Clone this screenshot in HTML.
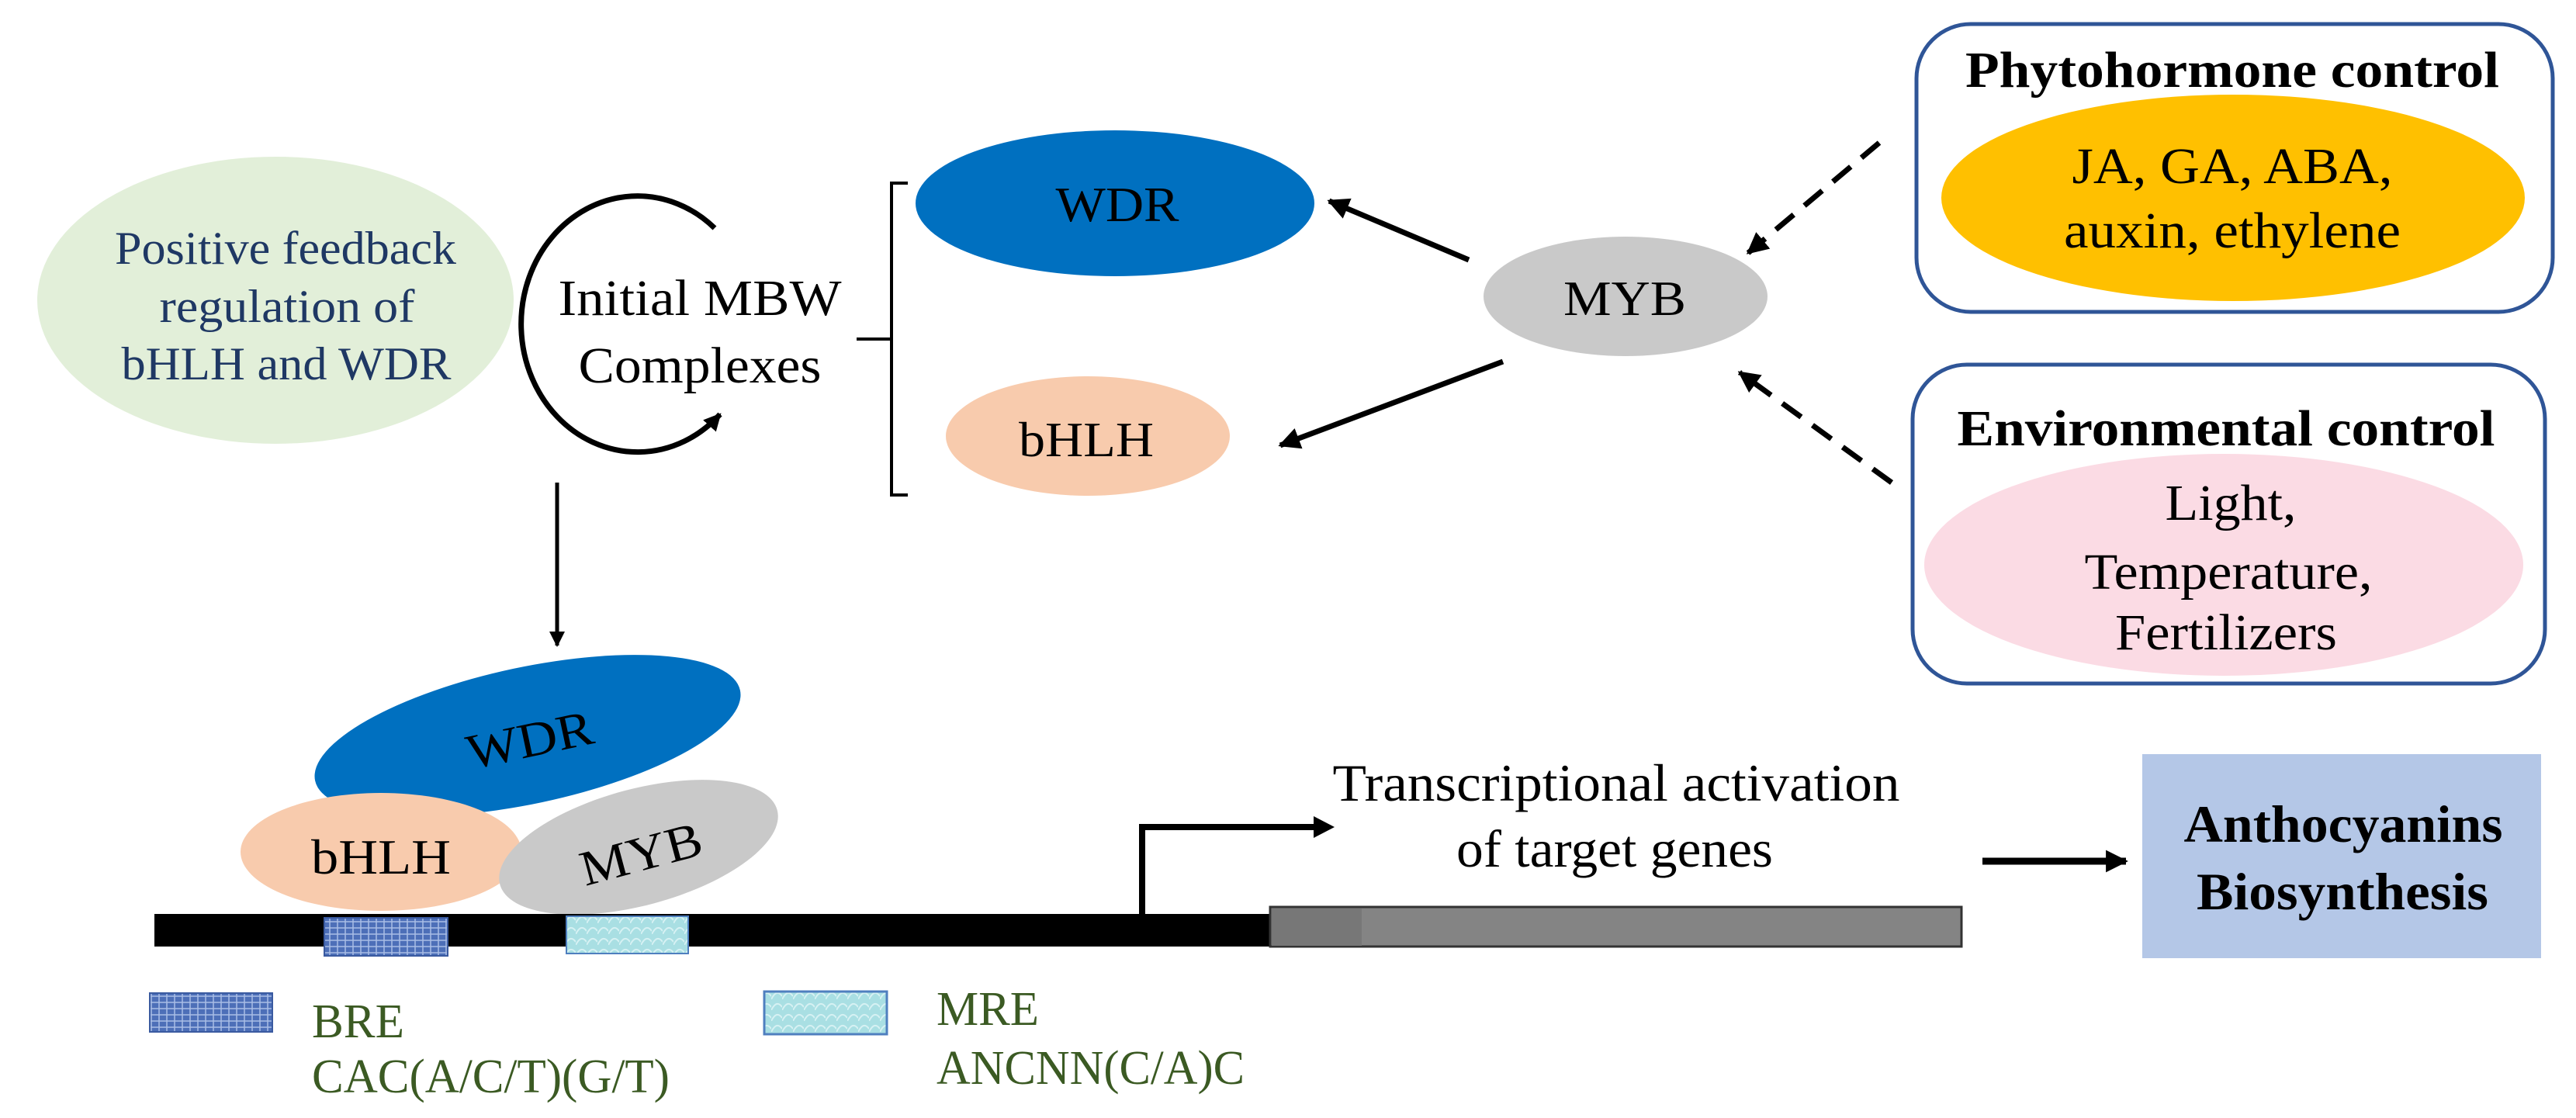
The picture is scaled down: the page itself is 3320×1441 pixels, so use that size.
<!DOCTYPE html>
<html><head><meta charset="utf-8"><style>html,body{margin:0;padding:0;background:#fff}svg{display:block}</style></head>
<body>
<svg xmlns="http://www.w3.org/2000/svg" width="3320" height="1441" viewBox="0 0 3320 1441" font-family="'Liberation Serif', serif">
<defs>
<marker id="ah" viewBox="0 0 10 10" refX="9" refY="5" markerWidth="4" markerHeight="4" orient="auto" markerUnits="strokeWidth"><path d="M0,0 L10,5 L0,10 Z" fill="#000"/></marker>
<marker id="ah2" viewBox="0 0 10 10" refX="9" refY="5" markerWidth="3.2" markerHeight="3.2" orient="auto" markerUnits="strokeWidth"><path d="M0,0 L10,5 L0,10 Z" fill="#000"/></marker>
<pattern id="bre" width="10" height="8" patternUnits="userSpaceOnUse"><rect width="10" height="8" fill="#4d6fb8"/><path d="M0,4 L10,4 M5,0 L5,8" stroke="#a9bde6" stroke-width="1.5"/></pattern>
<pattern id="mre" width="14" height="14" patternUnits="userSpaceOnUse"><rect width="14" height="14" fill="#a9dfe3"/><path d="M0,14 Q7,0 14,10" stroke="#d6f1f3" stroke-width="2" fill="none"/></pattern>
</defs>

<!-- green ellipse -->
<ellipse cx="355" cy="387" rx="307" ry="185" fill="#e2efd9"/>
<g fill="#1f3864" font-size="60" text-anchor="middle">
<text x="368" y="340" textLength="440" lengthAdjust="spacingAndGlyphs">Positive feedback</text>
<text x="370" y="415" textLength="329" lengthAdjust="spacingAndGlyphs">regulation of</text>
<text x="369" y="489" textLength="425" lengthAdjust="spacingAndGlyphs">bHLH and WDR</text>
</g>

<!-- circular arrow -->
<path d="M921,294 A150 165 0 1 0 928,534" fill="none" stroke="#000" stroke-width="7" marker-end="url(#ah2)"/>
<g font-size="66" text-anchor="middle">
<text x="902" y="406" textLength="365" lengthAdjust="spacingAndGlyphs">Initial MBW</text>
<text x="902" y="493" textLength="313" lengthAdjust="spacingAndGlyphs">Complexes</text>
</g>

<!-- bracket -->
<path d="M1170,236 L1149,236 L1149,638 L1170,638 M1104,437 L1149,437" fill="none" stroke="#000" stroke-width="4"/>

<!-- top ellipses -->
<ellipse cx="1437" cy="262" rx="257" ry="94" fill="#0070c0"/>
<text x="1440" y="285" font-size="64" text-anchor="middle" textLength="159" lengthAdjust="spacingAndGlyphs">WDR</text>
<ellipse cx="1402" cy="562" rx="183" ry="77" fill="#f8cbad"/>
<text x="1400" y="588" font-size="64" text-anchor="middle" textLength="174" lengthAdjust="spacingAndGlyphs">bHLH</text>
<ellipse cx="2095" cy="382" rx="183" ry="77" fill="#c9c9c9"/>
<text x="2094" y="406" font-size="64" text-anchor="middle" textLength="158" lengthAdjust="spacingAndGlyphs">MYB</text>

<!-- arrows from MYB -->
<line x1="1893" y1="335" x2="1713" y2="259" stroke="#000" stroke-width="7" marker-end="url(#ah)"/>
<line x1="1937" y1="466" x2="1650" y2="574" stroke="#000" stroke-width="7" marker-end="url(#ah)"/>

<!-- dashed arrows -->
<line x1="2422" y1="184" x2="2253" y2="326" stroke="#000" stroke-width="7" stroke-dasharray="30,18" marker-end="url(#ah)"/>
<line x1="2438" y1="622" x2="2242" y2="480" stroke="#000" stroke-width="7" stroke-dasharray="30,18" marker-end="url(#ah)"/>

<!-- phytohormone box -->
<rect x="2470" y="31" width="820" height="371" rx="70" fill="#fff" stroke="#2f5597" stroke-width="5"/>
<text x="2877" y="112" font-size="66" font-weight="bold" text-anchor="middle" textLength="688" lengthAdjust="spacingAndGlyphs">Phytohormone control</text>
<ellipse cx="2878" cy="255" rx="376" ry="133" fill="#ffc000"/>
<g font-size="66" text-anchor="middle">
<text x="2877" y="236" textLength="413" lengthAdjust="spacingAndGlyphs">JA, GA, ABA,</text>
<text x="2877" y="319" textLength="434" lengthAdjust="spacingAndGlyphs">auxin, ethylene</text>
</g>

<!-- environmental box -->
<rect x="2465" y="470" width="815" height="411" rx="70" fill="#fff" stroke="#2f5597" stroke-width="5"/>
<text x="2869" y="574" font-size="66" font-weight="bold" text-anchor="middle" textLength="693" lengthAdjust="spacingAndGlyphs">Environmental control</text>
<ellipse cx="2866" cy="728" rx="386" ry="143" fill="#fbdbe4"/>
<g font-size="66" text-anchor="middle">
<text x="2875" y="670" textLength="169" lengthAdjust="spacingAndGlyphs">Light,</text>
<text x="2872" y="759" textLength="371" lengthAdjust="spacingAndGlyphs">Temperature,</text>
<text x="2869" y="837" textLength="286" lengthAdjust="spacingAndGlyphs">Fertilizers</text>
</g>

<!-- vertical arrow -->
<line x1="718" y1="622" x2="718" y2="832" stroke="#000" stroke-width="5" marker-end="url(#ah)"/>

<!-- bottom complex -->
<ellipse cx="680" cy="948" rx="280" ry="88" transform="rotate(-12 680 948)" fill="#0070c0"/>
<text x="683" y="975" font-size="64" text-anchor="middle" transform="rotate(-12 683 954)" textLength="165" lengthAdjust="spacingAndGlyphs">WDR</text>
<ellipse cx="491" cy="1098" rx="181" ry="76" fill="#f8cbad"/>
<ellipse cx="823" cy="1092" rx="185" ry="75" transform="rotate(-15 823 1092)" fill="#c9c9c9"/>
<text x="491" y="1126" font-size="64" text-anchor="middle" textLength="180" lengthAdjust="spacingAndGlyphs">bHLH</text>
<text x="826" y="1122" font-size="64" text-anchor="middle" transform="rotate(-15 826 1100)" textLength="160" lengthAdjust="spacingAndGlyphs">MYB</text>

<!-- DNA bar -->
<rect x="199" y="1178" width="1560" height="42" fill="#000"/>
<rect x="1637" y="1169" width="891" height="51" fill="#848484" stroke="#333" stroke-width="3"/>
<rect x="1639" y="1171" width="116" height="48" fill="#777"/>
<rect x="418" y="1183" width="159" height="49" fill="url(#bre)" stroke="#3a5aa0" stroke-width="2"/>
<rect x="730" y="1181" width="157" height="48" fill="url(#mre)" stroke="#4f7fbf" stroke-width="2"/>

<!-- promoter arrow -->
<path d="M1472,1178 L1472,1066 L1700,1066" fill="none" stroke="#000" stroke-width="8"/>
<path d="M1693,1052 L1720,1066 L1693,1080 Z" fill="#000"/>

<g font-size="68" text-anchor="middle">
<text x="2083" y="1032" textLength="731" lengthAdjust="spacingAndGlyphs">Transcriptional activation</text>
<text x="2081" y="1117" textLength="408" lengthAdjust="spacingAndGlyphs">of target genes</text>
</g>

<!-- to anthocyanins -->
<line x1="2555" y1="1110" x2="2740" y2="1110" stroke="#000" stroke-width="9" marker-end="url(#ah2)"/>
<rect x="2761" y="972" width="514" height="263" fill="#b4c7e7"/>
<g font-size="68" font-weight="bold" text-anchor="middle">
<text x="3020" y="1085" textLength="411" lengthAdjust="spacingAndGlyphs">Anthocyanins</text>
<text x="3019" y="1172" textLength="376" lengthAdjust="spacingAndGlyphs">Biosynthesis</text>
</g>

<!-- legend -->
<rect x="193" y="1280" width="158" height="50" fill="url(#bre)" stroke="#3a5aa0" stroke-width="2"/>
<rect x="985" y="1278" width="158" height="55" fill="url(#mre)" stroke="#4f7fbf" stroke-width="3"/>
<g fill="#3b5a23" font-size="62">
<text x="402" y="1337" textLength="119" lengthAdjust="spacingAndGlyphs">BRE</text>
<text x="402" y="1408" textLength="461" lengthAdjust="spacingAndGlyphs">CAC(A/C/T)(G/T)</text>
<text x="1207" y="1321" textLength="132" lengthAdjust="spacingAndGlyphs">MRE</text>
<text x="1207" y="1397" textLength="397" lengthAdjust="spacingAndGlyphs">ANCNN(C/A)C</text>
</g>
</svg>
</body></html>
